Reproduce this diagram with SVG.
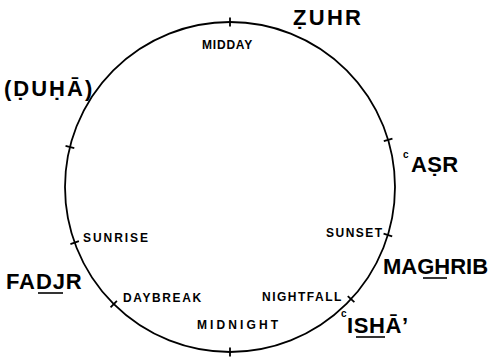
<svg xmlns="http://www.w3.org/2000/svg" width="490" height="357" viewBox="0 0 490 357">
<style>
.dial{fill:none;stroke:#000;stroke-width:1.8}
.tick{stroke:#000;stroke-width:1.8}
.sm{font-family:"Liberation Sans",Arial,sans-serif;font-weight:bold;font-size:12px;fill:#000}
.lg{font-family:"Liberation Sans",Arial,sans-serif;font-weight:bold;font-size:22px;fill:#000}
.sup{font-family:"Liberation Sans",Arial,sans-serif;font-weight:bold;font-size:10px;fill:#000}
.ul{stroke:#000;stroke-width:1.6}
</style>
<rect width="490" height="357" fill="#fff"/>
<g id="connectors">
<circle class="dial" cx="230" cy="187" r="165"/>
<g class="tick">
<line x1="390.5" y1="187" x2="399.5" y2="187" transform="rotate(-90 230 187)"/>
<line x1="390.5" y1="187" x2="399.5" y2="187" transform="rotate(194 230 187)"/>
<line x1="390.5" y1="187" x2="399.5" y2="187" transform="rotate(160.3 230 187)"/>
<line x1="390.5" y1="187" x2="399.5" y2="187" transform="rotate(134.8 230 187)"/>
<line x1="390.5" y1="187" x2="399.5" y2="187" transform="rotate(90 230 187)"/>
<line x1="390.5" y1="187" x2="399.5" y2="187" transform="rotate(42.8 230 187)"/>
<line x1="390.5" y1="187" x2="399.5" y2="187" transform="rotate(16.9 230 187)"/>
<line x1="390.5" y1="187" x2="399.5" y2="187" transform="rotate(-16.6 230 187)"/>
</g>
</g>
<g id="midday"><text class="sm" x="202" y="49" letter-spacing="0.8">MIDDAY</text></g>
<g id="zuhr"><text class="lg" x="293" y="25" letter-spacing="2.3">ẒUHR</text></g>
<g id="duha"><text class="lg" x="4" y="96" letter-spacing="2">(ḌUḤĀ)</text></g>
<g id="asr"><text class="sup" x="403" y="158">c</text><text class="lg" x="411" y="172" letter-spacing="0.3">AṢR</text></g>
<g id="sunrise"><text class="sm" x="83" y="242" letter-spacing="1.95">SUNRISE</text></g>
<g id="fadjr"><text class="lg" x="6" y="289" letter-spacing="0.9">FADJR</text><line class="ul" x1="38" y1="293" x2="63" y2="293"/></g>
<g id="daybreak"><text class="sm" x="123" y="302" letter-spacing="1.6">DAYBREAK</text></g>
<g id="midnight"><text class="sm" x="197" y="329" letter-spacing="3.1">MIDNIGHT</text></g>
<g id="sunset"><text class="sm" x="326" y="237" letter-spacing="1.5">SUNSET</text></g>
<g id="maghrib"><text class="lg" x="383" y="274">MAGHRIB</text><line class="ul" x1="423" y1="278" x2="447" y2="278"/></g>
<g id="nightfall"><text class="sm" x="262" y="301" letter-spacing="1.5">NIGHTFALL</text></g>
<g id="isha"><text class="sup" x="341" y="317">c</text><text class="lg" x="347" y="333" letter-spacing="0.6">ISHĀ’</text><line class="ul" x1="356" y1="337" x2="385" y2="337"/></g>
</svg>
